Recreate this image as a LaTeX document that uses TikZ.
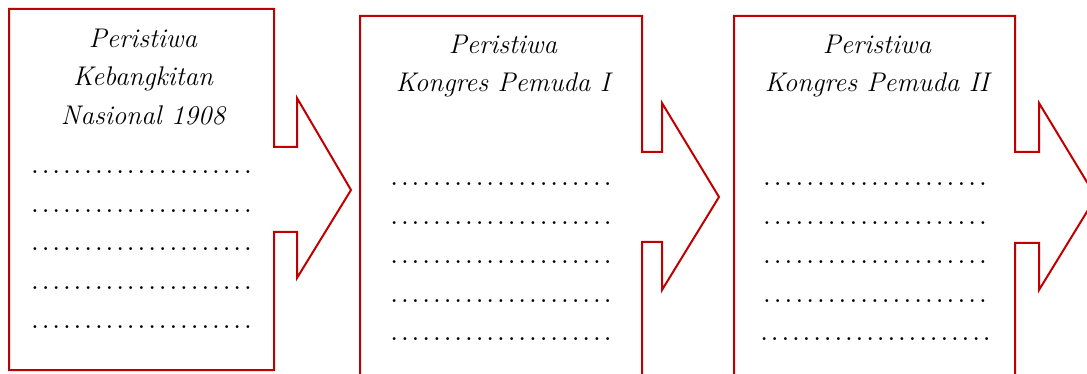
\documentclass[tikz,border=0pt]{standalone}
\usepackage{fontspec}
\definecolor{boxred}{RGB}{192,0,0}
% a row of evenly spaced dots: #1 total width, #2 pitch
\newcommand\dotrow[2]{\hbox to #1{\cleaders\hbox to #2{\hss.\hss}\hfill}}
\tikzset{
  eventbox/.style={draw=boxred, line width=2pt, line join=miter, fill=white},
  title/.style={font=\fontsize{27}{38.5}\selectfont\itshape, align=center,
    inner sep=0pt, anchor=north},
  blank/.style={font=\fontsize{20}{20}\selectfont\bfseries, inner sep=0pt, anchor=base}
}
\begin{document}
\begin{tikzpicture}[x=1pt,y=-1pt]
\useasboundingbox (0,0) rectangle (1087,374);
\clip (0,0) rectangle (1087,374);

% event 1
\draw[eventbox] (9,9) -- (274,9) -- (274,147) -- (297,147) -- (297,98) -- (351,190)
  -- (297,278) -- (297,232) -- (274,232) -- (274,370) -- (9,370) -- cycle;
% event 2
\draw[eventbox] (360,390) -- (360,16) -- (642,16) -- (642,152) -- (662,152) -- (662,103)
  -- (719,197) -- (662,290) -- (662,242) -- (642,242) -- (642,390);
% event 3
\draw[eventbox] (734,390) -- (734,16) -- (1015,16) -- (1015,152) -- (1039,152) -- (1039,103)
  -- (1096,197) -- (1039,290) -- (1039,243) -- (1015,243) -- (1015,390);

\node[title] (t1) at (143,28.5) {Peristiwa\\Kebangkitan\\Nasional 1908};
\node[title] (t2) at (503,34.5) {Peristiwa\\Kongres Pemuda I};
\node[title] (t3) at (877,34.5) {Peristiwa\\Kongres Pemuda II};

\foreach \y [count=\i] in {172.3,211,249.5,288.2,326.7}
  \node[blank] (d1-\i) at (141.5,\y+1.4) {\dotrow{223.8pt}{10.65pt}};
\foreach \y [count=\i] in {184,223.2,261.8,300.6,339.5}
  \node[blank] (d2-\i) at (501,\y+1.4) {\dotrow{224.2pt}{10.67pt}};
\foreach \y [count=\i] in {184,223.2,261.8,300.6}
  \node[blank] (d3-\i) at (875,\y+1.4) {\dotrow{226.9pt}{10.8pt}};
\node[blank] (d3-5) at (875.5,339.5+1.4) {\dotrow{233.3pt}{10.6pt}};
\end{tikzpicture}
\end{document}
